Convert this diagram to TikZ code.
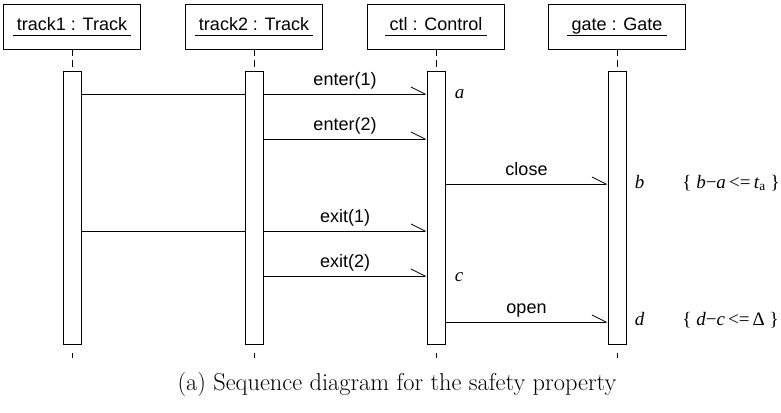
\documentclass[tikz,border=0pt]{standalone}
\usepackage{fontspec}
\newfontfamily\arialf{Liberation Sans}
\newfontfamily\timesf{Liberation Serif}
\usetikzlibrary{arrows.meta,calc}
\begin{document}
\begin{tikzpicture}[x=1pt,y=-1pt, line width=0.8pt,
  objbox/.style={draw, minimum width=137pt, minimum height=45pt, inner sep=0pt},
  objtxt/.style={inner sep=0pt, anchor=base, font=\arialf\fontsize{18}{20}\selectfont},
  actbox/.style={draw, fill=white, minimum width=18pt, minimum height=273pt, inner sep=0pt, anchor=north},
  lifeline/.style={dash pattern=on 7pt off 4pt},
  msg/.style={-{Straight Barb[harpoon, length=14pt, width=14pt]}},
  msglbl/.style={midway, anchor=base, yshift=9pt, inner sep=0pt, font=\arialf\fontsize{18}{20}\selectfont},
  ital/.style={inner sep=0pt, anchor=base west, font=\timesf\itshape\fontsize{19}{21}\selectfont},
  cons/.style={inner sep=0pt, anchor=base west, font=\timesf\fontsize{19}{21}\selectfont}
]
\useasboundingbox (0,0) rectangle (781,412);

% objects
\node[objbox] (o1) at (72,26.5) {};
\node[objbox] (o2) at (254,26.5) {};
\node[objbox] (o3) at (436,26.5) {};
\node[objbox] (o4) at (617,26.5) {};
\node[objtxt] (t1) at (72,31) {track1 : Track};
\node[objtxt] (t2) at (254,31) {track2 : Track};
\node[objtxt] (t3) at (436,31) {ctl : Control};
\node[objtxt] (t4) at (617,31) {gate : Gate};
\foreach \t in {t1,t2,t3,t4}
  \draw ($(\t.base west)+(-4,4.5)$) -- ($(\t.base east)+(4,4.5)$);

% activations
\node[actbox] (a1) at (72,71) {};
\node[actbox] (a2) at (254,71) {};
\node[actbox] (a3) at (436,71) {};
\node[actbox] (a4) at (617,71) {};
\foreach \i in {1,2,3,4} {
  \draw[lifeline] (o\i.south) -- (a\i.north);
  \draw ($(a\i.south)+(0,8)$) -- ++(0,5);
}

% message levels
\coordinate (m1) at (0,94);
\coordinate (m2) at (0,139);
\coordinate (m3) at (0,184);
\coordinate (m4) at (0,231);
\coordinate (m5) at (0,276);
\coordinate (m6) at (0,322);

\draw (a1.east |- m1) -- (a2.west |- m1);
\draw[msg] (a2.east |- m1) -- (a3.west |- m1) node[msglbl] {enter(1)};
\draw[msg] (a2.east |- m2) -- (a3.west |- m2) node[msglbl] {enter(2)};
\draw[msg] (a3.east |- m3) -- (a4.west |- m3) node[msglbl] {close};
\draw (a1.east |- m4) -- (a2.west |- m4);
\draw[msg] (a2.east |- m4) -- (a3.west |- m4) node[msglbl] {exit(1)};
\draw[msg] (a2.east |- m5) -- (a3.west |- m5) node[msglbl] {exit(2)};
\draw[msg] (a3.east |- m6) -- (a4.west |- m6) node[msglbl] {open};

% time labels
\node[ital] (la) at ($(a3.east |- m1)+(9,4.5)$) {a};
\node[ital] (lb) at ($(a4.east |- m3)+(8,4)$) {b};
\node[ital] (lc) at ($(a3.east |- m5)+(9,5)$) {c};
\node[ital] (ld) at ($(a4.east |- m6)+(8,3.5)$) {d};

% constraints
\node[cons] (c1) at (682,188) {\{ \textit{b}−\textit{a}\,<=\,\textit{t}\textsubscript{a} \}};
\node[cons] (c2) at (682,325.5) {\{ \textit{d}−\textit{c}\,<=\,Δ \}};

% caption
\node[inner sep=0pt, anchor=base, font=\fontsize{24.4}{28}\selectfont] (cap) at (397,390) {(a) Sequence diagram for the safety property};
\end{tikzpicture}
\end{document}
